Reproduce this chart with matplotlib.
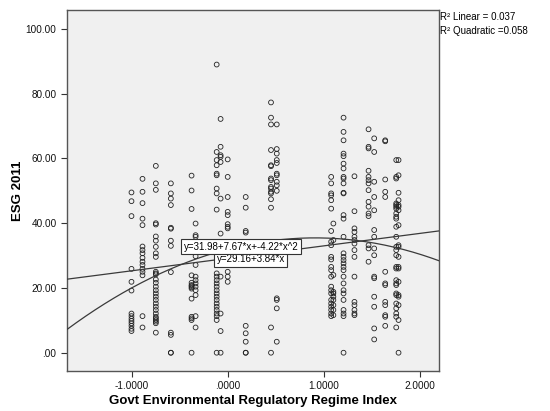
import matplotlib
matplotlib.use('Agg')
import matplotlib.pyplot as plt
import numpy as np

plt.rcParams['font.family'] = ['Liberation Sans', 'DejaVu Sans']

# country columns: regime index value and ESG 2011 scores
col_x = [-1.007, -0.892, -0.753, -0.596, -0.380, -0.338, -0.118, -0.077, -0.003,
         0.185, 0.449, 0.509, 1.077, 1.100, 1.206, 1.320, 1.467, 1.526, 1.641,
         1.756, 1.780]
col_y = [
    [49.5, 46.8, 42.2, 25.9, 21.9, 19.2, 12.1, 11.3, 10.5, 9.8, 9.1, 8.3, 7.4, 6.7],
    [53.7, 49.7, 46.2, 41.4, 39.4, 32.8, 31.7, 30.7, 29.3, 28.1, 27.1, 25.9, 25.0,
     23.9, 11.3, 7.8],
    [57.7, 52.3, 50.3, 40.0, 39.6, 35.9, 34.6, 32.7, 30.7, 29.6, 25.0, 24.5, 24.2,
     22.6, 21.6, 20.4, 19.3, 18.3, 17.3, 16.3, 15.2, 14.2, 13.2, 12.1, 11.1, 10.6,
     10.1, 9.6, 9.1, 6.2],
    [52.3, 49.2, 47.6, 45.6, 38.6, 38.3, 34.6, 33.0, 24.9, 6.2, 5.5, 0.0, 0.0],
    [54.7, 50.1, 44.4, 23.9, 21.6, 20.9, 20.6, 20.2, 19.8, 16.7, 11.1, 10.6, 10.1, 0.0],
    [39.9, 36.3, 35.8, 33.7, 29.8, 27.1, 23.5, 22.4, 21.4, 20.4, 19.3, 17.8, 11.3, 7.8],
    [89.0, 62.0, 59.5, 57.9, 55.3, 54.8, 50.7, 49.2, 44.2, 24.5, 23.5, 22.4, 21.4,
     20.4, 19.3, 18.3, 17.3, 16.3, 15.2, 14.2, 13.2, 12.1, 11.3, 10.1, 0.0],
    [72.2, 63.6, 61.0, 60.5, 58.9, 47.6, 36.8, 23.5, 12.1, 6.7, 0.0],
    [59.7, 54.3, 48.1, 43.5, 42.5, 39.7, 38.9, 38.4, 30.7, 25.0, 23.5, 21.9],
    [48.1, 44.8, 37.6, 37.1, 27.1, 8.3, 6.0, 3.4, 0.0, 0.0],
    [77.3, 72.6, 70.5, 62.6, 57.9, 57.6, 53.8, 53.3, 51.2, 50.7, 49.7, 49.2, 47.4,
     44.8, 7.8, 0.0],
    [70.5, 62.9, 61.5, 59.5, 58.6, 55.3, 54.8, 52.8, 51.7, 50.0, 28.1, 16.8, 16.3,
     13.7, 3.4],
    [54.3, 52.3, 49.2, 48.6, 47.1, 44.5, 37.6, 34.3, 33.2, 29.6, 28.8, 26.5, 25.5,
     23.5, 20.4, 19.3, 18.3, 16.3, 15.2, 14.2, 13.2, 12.1, 11.3],
    [39.9, 34.8, 24.0, 18.8, 18.3, 17.3, 16.3, 14.7, 13.2, 11.6],
    [72.6, 68.2, 65.6, 61.5, 60.7, 58.4, 56.9, 54.3, 53.8, 52.3, 49.4, 49.2, 42.5,
     41.4, 35.8, 30.7, 29.6, 28.6, 27.6, 26.5, 25.5, 23.5, 21.4, 19.3, 18.3, 16.3,
     13.2, 12.1, 11.3, 0.0],
    [54.5, 43.7, 38.4, 37.3, 35.8, 34.8, 33.7, 31.7, 29.6, 23.5, 15.7, 14.7, 13.2,
     12.1, 11.6],
    [69.0, 63.6, 63.1, 56.2, 54.3, 53.3, 52.3, 50.2, 46.6, 45.1, 43.0, 42.2, 33.2,
     32.2, 28.1],
    [66.2, 62.0, 52.8, 48.1, 44.0, 37.9, 35.8, 32.2, 30.1, 23.5, 23.0, 17.3, 14.2,
     7.5, 4.1],
    [65.6, 65.3, 53.5, 49.7, 48.1, 25.0, 21.4, 20.9, 15.7, 14.7, 11.6, 11.1, 8.3],
    [59.5, 54.3, 53.8, 46.1, 45.6, 45.1, 44.5, 43.0, 42.0, 41.4, 38.9, 35.8, 32.7,
     31.7, 30.1, 26.5, 26.0, 22.4, 21.4, 20.9, 18.3, 17.8, 15.2, 13.7, 12.1, 11.1, 7.8],
    [59.5, 54.8, 49.4, 47.1, 45.6, 45.1, 44.0, 39.4, 33.2, 32.7, 29.6, 26.5, 26.0,
     21.9, 17.8, 17.3, 14.7, 10.1, 0.0],
]

# fitted coefficients as printed on the chart
lin_coef = [29.16, 3.84]
quad_coef = [31.98, 7.67, -4.22]
r2_linear = 0.037
r2_quad = 0.058

xs = np.concatenate([[cx] * len(cy) for cx, cy in zip(col_x, col_y)])
ys = np.concatenate(col_y)

fig = plt.figure(figsize=(5.5, 4.11), dpi=100)
ax = fig.add_axes([0.1218, 0.0973, 0.676, 0.878])
ax.set_facecolor('#f0f0f0')

ax.scatter(xs, ys, s=12, facecolors='none', edgecolors='#222222', linewidths=0.6, zorder=3)

xmin, xmax = -1.68, 2.2
xx = np.linspace(xmin, xmax, 200)
ax.plot(xx, lin_coef[0] + lin_coef[1] * xx, color='#3a3a3a', linewidth=0.9, zorder=4)
ax.plot(xx, quad_coef[0] + quad_coef[1] * xx + quad_coef[2] * xx ** 2,
        color='#3a3a3a', linewidth=0.9, zorder=4)

box = dict(boxstyle='square,pad=0.25', facecolor='white', edgecolor='#333333', linewidth=0.8)
ax.text(-0.12, 28.9, 'y=%.2f+%.2f*x' % (lin_coef[0], lin_coef[1]),
        fontsize=7, va='center', ha='left', bbox=box, zorder=5)
ax.text(-0.46, 32.8, 'y=%.2f+%.2f*x+%.2f*x^2' % tuple(quad_coef),
        fontsize=7, va='center', ha='left', bbox=box, zorder=6)

ax.set_xlim(xmin, xmax)
ax.set_ylim(-5.65, 105.8)
ax.set_yticks([0, 20, 40, 60, 80, 100])
ax.set_yticklabels(['.00', '20.00', '40.00', '60.00', '80.00', '100.00'])
ax.set_xticks([-1, 0, 1, 2])
ax.set_xticklabels(['-1.0000', '.0000', '1.0000', '2.0000'])
ax.tick_params(labelsize=7.2, length=4, width=0.8, colors='#333333', labelcolor='#111111')
for sp in ax.spines.values():
    sp.set_color('#555555')
    sp.set_linewidth(1.0)

ax.set_xlabel('Govt Environmental Regulatory Regime Index', fontsize=9.5, fontweight='bold')
ax.set_ylabel('ESG 2011', fontsize=9.5, fontweight='bold')
ax.xaxis.set_label_coords(0.5, -0.067)
ax.yaxis.set_label_coords(-0.116, 0.5)

fig.text(0.8, 0.958, 'R² Linear = %.3f' % r2_linear, fontsize=7, va='center', ha='left')
fig.text(0.8, 0.924, 'R² Quadratic =%.3f' % r2_quad, fontsize=7, va='center', ha='left')

fig.savefig('out.png', dpi=100)
